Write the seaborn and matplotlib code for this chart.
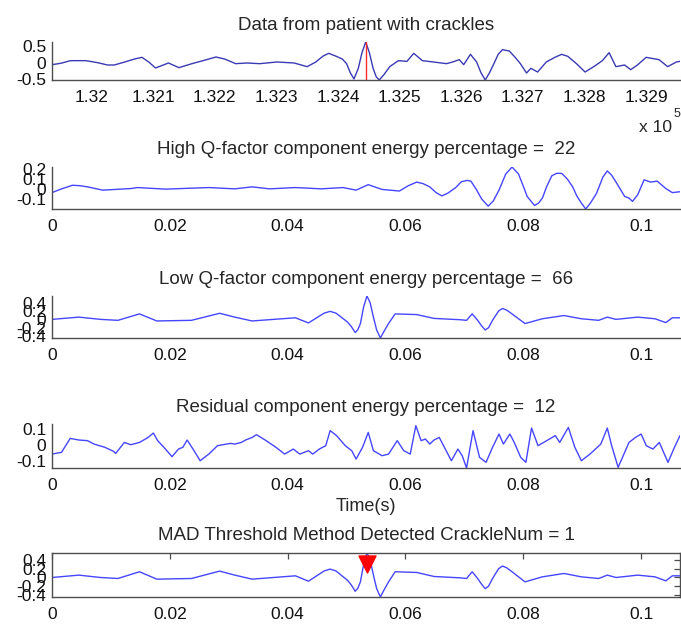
import matplotlib
matplotlib.use('Agg')
import matplotlib.pyplot as plt
import pandas as pd
import seaborn as sns

# raw recording around the crackle: sample index and amplitude
raw_idx = [131936, 131950, 131966, 131991, 132010, 132026, 132037, 132054, 132070, 132082,
           132093, 132104, 132125, 132142, 132163, 132181, 132202, 132216, 132234, 132252,
           132273, 132301, 132329, 132350, 132364, 132376, 132385, 132396, 132407, 132414,
           132420, 132426, 132433, 132439, 132445, 132451, 132457, 132462, 132467, 132475,
           132484, 132498, 132512, 132523, 132537, 132555, 132576, 132586, 132597, 132604,
           132615, 132625, 132632, 132639, 132646, 132653, 132660, 132667, 132678, 132688,
           132696, 132706, 132713, 132724, 132738, 132752, 132763, 132773, 132787, 132801,
           132815, 132829, 132840, 132851, 132865, 132875, 132886, 132900, 132921, 132935,
           132949, 132955]
raw_amp = [-0.06, -0.02, 0.06, 0.06, 0.0, -0.07, -0.07, 0.02, 0.11, 0.16,
           0.02, -0.16, -0.01, -0.15, -0.03, 0.06, 0.17, 0.11, -0.03, -0.01,
           -0.03, 0.02, -0.01, -0.12, 0.02, 0.20, 0.28, 0.20, 0.11, -0.03,
           -0.30, -0.49, -0.17, 0.30, 0.62, 0.30, -0.17, -0.42, -0.52, -0.35,
           -0.12, 0.06, 0.04, 0.28, 0.06, 0.02, -0.03, 0.02, 0.09, -0.06,
           0.25, 0.02, -0.30, -0.52, -0.30, -0.03, 0.25, 0.39, 0.35, 0.15,
           -0.03, -0.31, -0.17, -0.28, 0.02, 0.16, 0.25, 0.19, -0.03, -0.28,
           -0.12, 0.06, 0.30, -0.12, -0.07, -0.21, -0.07, 0.16, 0.09, -0.12,
           0.02, 0.04]
crackle_idx = 132445
raw_ticks = [132000, 132100, 132200, 132300, 132400, 132500, 132600, 132700, 132800, 132900]
raw_tick_labels = ['1.32', '1.321', '1.322', '1.323', '1.324', '1.325', '1.326', '1.327', '1.328', '1.329']

# high Q-factor component
hq_t = [0.0, 0.0015, 0.00346, 0.0047, 0.00603, 0.0086, 0.0134, 0.01449, 0.01926, 0.02662,
        0.03103, 0.03397, 0.03691, 0.04132, 0.04574, 0.04941, 0.05162, 0.05368, 0.05603, 0.05897,
        0.0605, 0.06191, 0.0630, 0.06412, 0.0652, 0.06618, 0.0672, 0.06853, 0.0695, 0.0705,
        0.0711, 0.0720, 0.07294, 0.07404, 0.0749, 0.07588, 0.0770, 0.07809, 0.07919, 0.0800,
        0.08066, 0.08191, 0.0826, 0.08324, 0.0840, 0.08485, 0.0857, 0.08654, 0.0875, 0.08838,
        0.0891, 0.08985, 0.09059, 0.0914, 0.09243, 0.0935, 0.09426, 0.0950, 0.09574, 0.09721,
        0.09794, 0.09853, 0.09941, 0.10051, 0.10162, 0.10272, 0.10419, 0.1053, 0.1066]
hq_v = [-0.035, 0.0, 0.039, 0.035, 0.023, -0.010, 0.006, 0.016, 0.0, 0.016,
        0.003, 0.023, 0.003, 0.016, 0.003, 0.016, -0.010, 0.045, -0.003, -0.019,
        0.035, 0.071, 0.055, 0.023, -0.035, -0.068, -0.040, 0.016, 0.075, 0.088,
        0.081, 0.0, -0.100, -0.171, -0.120, -0.010, 0.150, 0.223, 0.152, 0.030,
        -0.074, -0.165, -0.140, -0.090, 0.030, 0.135, 0.160, 0.158, 0.100, 0.023,
        -0.070, -0.139, -0.200, -0.140, -0.042, 0.120, 0.184, 0.140, 0.071, -0.074,
        -0.090, -0.123, -0.058, 0.094, 0.071, 0.081, 0.006, -0.035, -0.026]

# low Q-factor component
lq_t = [0.0, 0.00456, 0.00824, 0.01118, 0.01485, 0.01779, 0.02368, 0.02846, 0.03103, 0.03397,
        0.03838, 0.04132, 0.04353, 0.0462, 0.04721, 0.0482, 0.05015, 0.0508, 0.05147, 0.0519,
        0.05235, 0.0529, 0.05346, 0.0540, 0.05456, 0.0551, 0.05574, 0.0563, 0.05713, 0.05824,
        0.06191, 0.06485, 0.06926, 0.07037, 0.07132, 0.07221, 0.0729, 0.07353, 0.0741, 0.07478,
        0.0758, 0.07647, 0.0772, 0.07809, 0.08029, 0.08324, 0.08691, 0.08985, 0.09279, 0.09426,
        0.09574, 0.09941, 0.10235, 0.10419, 0.1053, 0.1066]
lq_v = [0.0, 0.054, 0.0, -0.023, 0.131, -0.038, -0.023, 0.146, 0.054, -0.038,
        0.008, 0.038, -0.085, 0.150, 0.192, 0.150, -0.062, -0.170, -0.315, -0.250,
        -0.100, 0.300, 0.560, 0.400, 0.054, -0.250, -0.446, -0.300, -0.100, 0.131,
        0.115, 0.023, -0.008, -0.023, 0.131, -0.015, -0.150, -0.254, -0.200, -0.023,
        0.200, 0.262, 0.220, 0.131, -0.100, 0.015, 0.092, 0.015, -0.023, 0.054,
        0.0, 0.054, 0.015, -0.077, 0.038, 0.038]

# residual component
res_t = [0.0, 0.00162, 0.00309, 0.00456, 0.00603, 0.00713, 0.00897, 0.01044, 0.01081, 0.01228,
         0.01338, 0.01485, 0.01632, 0.01721, 0.01794, 0.01926, 0.02037, 0.02147, 0.02221, 0.02294,
         0.02404, 0.02515, 0.02662, 0.02809, 0.03029, 0.03103, 0.03213, 0.03287, 0.03397, 0.03471,
         0.03618, 0.03801, 0.03949, 0.04096, 0.04206, 0.04353, 0.04426, 0.04537, 0.04647, 0.04721,
         0.04831, 0.04978, 0.05088, 0.05162, 0.05272, 0.05368, 0.05456, 0.05603, 0.05713, 0.0586,
         0.05971, 0.06081, 0.06176, 0.06265, 0.06338, 0.06412, 0.06485, 0.06574, 0.06632, 0.06779,
         0.0689, 0.06963, 0.07037, 0.07147, 0.07257, 0.07368, 0.07478, 0.07588, 0.07662, 0.07772,
         0.07846, 0.07956, 0.08044, 0.0814, 0.0825, 0.08397, 0.08544, 0.08618, 0.08765, 0.08875,
         0.08985, 0.09132, 0.09316, 0.09426, 0.095, 0.0961, 0.09684, 0.09794, 0.09904, 0.1,
         0.10088, 0.10199, 0.10309, 0.10456, 0.10566, 0.1066]
res_v = [-0.056, -0.045, 0.041, 0.031, 0.027, 0.006, -0.014, -0.039, -0.052, 0.016,
         0.002, 0.016, 0.047, 0.074, 0.027, -0.025, -0.072, -0.025, -0.014, 0.031,
         -0.031, -0.097, -0.056, -0.004, 0.010, 0.006, 0.016, 0.031, 0.047, 0.064,
         0.031, -0.014, -0.056, -0.025, -0.056, -0.035, -0.056, -0.025, -0.004, 0.089,
         0.058, -0.004, -0.035, -0.087, -0.014, 0.078, -0.035, -0.066, -0.056, 0.027,
         -0.035, -0.056, 0.120, 0.027, 0.037, 0.006, 0.031, 0.047, 0.006, -0.097,
         -0.025, -0.066, -0.142, 0.089, -0.076, -0.107, -0.014, 0.068, 0.006, 0.068,
         0.016, -0.076, -0.107, 0.105, -0.004, 0.027, 0.058, 0.016, 0.109, -0.014,
         -0.097, -0.056, 0.006, 0.105, -0.004, -0.138, -0.076, 0.016, 0.047, 0.068,
         -0.004, -0.025, 0.016, -0.107, -0.014, 0.058]

# detected crackle
det_t = [0.0535]
det_v = [0.30]

time_ticks = [0, 0.02, 0.04, 0.06, 0.08, 0.1]
time_tick_labels = ['0', '0.02', '0.04', '0.06', '0.08', '0.1']

titles = ['Data from patient with crackles',
          'High Q-factor component energy percentage =  22',
          'Low Q-factor component energy percentage =  66',
          'Residual component energy percentage =  12',
          'MAD Threshold Method Detected CrackleNum = 1']

sns.set_style('white')
plt.rcParams['font.family'] = ['Liberation Sans', 'DejaVu Sans']

W, H = 681, 626
fig = plt.figure(figsize=(W / 100, H / 100), dpi=100)

# axes boxes in pixels: (top, bottom)
boxes = [(42, 80), (167, 209), (296, 338), (424, 468), (553, 597)]
left_px, right_px = 52, 680
axes = []
for top, bot in boxes:
    ax = fig.add_axes([left_px / W, (H - bot) / H, (right_px - left_px) / W, (bot - top) / H])
    axes.append(ax)

blue_dark = '#3a3ab4'
blue = '#4646ff'
spine_col = '#4d4d4d'

raw_df = pd.DataFrame({'idx': raw_idx, 'amp': raw_amp})
hq_df = pd.DataFrame({'t': hq_t, 'v': hq_v})
lq_df = pd.DataFrame({'t': lq_t, 'v': lq_v})
res_df = pd.DataFrame({'t': res_t, 'v': res_v})

# panel 1: raw data
ax = axes[0]
sns.lineplot(data=raw_df, x='idx', y='amp', ax=ax, color=blue_dark, lw=1.0, estimator=None)
ax.axvline(crackle_idx, color='#ff2a2a', lw=1.0)
ax.set_xlim(min(raw_idx), max(raw_idx))
ax.set_ylim(min(raw_amp), max(raw_amp))
ax.set_xticks(raw_ticks)
ax.set_xticklabels(raw_tick_labels)
ax.set_yticks([-0.5, 0, 0.5])
ax.set_yticklabels(['-0.5', '0', '0.5'])
ax.text(0.988, -1.25, 'x 10', transform=ax.transAxes, ha='right', va='center', fontsize=12.5)
ax.text(0.990, -0.90, '5', transform=ax.transAxes, ha='left', va='center', fontsize=9)

# panels 2-5
sns.lineplot(data=hq_df, x='t', y='v', ax=axes[1], color=blue, lw=1.0, estimator=None)
axes[1].set_ylim(min(hq_v), max(hq_v))
axes[1].set_yticks([-0.1, 0, 0.1, 0.2])
axes[1].set_yticklabels(['-0.1', '0', '0.1', '0.2'])

for ax in (axes[2], axes[4]):
    sns.lineplot(data=lq_df, x='t', y='v', ax=ax, color=blue, lw=1.0, estimator=None)
    ax.set_ylim(min(lq_v), max(lq_v))
    ax.set_yticks([-0.4, -0.2, 0, 0.2, 0.4])
    ax.set_yticklabels(['-0.4', '-0.2', '0', '0.2', '0.4'])

sns.lineplot(data=res_df, x='t', y='v', ax=axes[3], color=blue, lw=1.0, estimator=None)
axes[3].set_ylim(min(res_v), 0.13)
axes[3].set_yticks([-0.1, 0, 0.1])
axes[3].set_yticklabels(['-0.1', '0', '0.1'])
axes[3].set_xlabel('Time(s)', fontsize=13, labelpad=4)

sns.scatterplot(x=det_t, y=det_v, ax=axes[4], marker='v', color='red', s=150,
                edgecolor='red', linewidth=1, zorder=5, clip_on=False)

for i, ax in enumerate(axes):
    if i > 0:
        ax.set_xlim(0, 0.1066)
        ax.set_xticks(time_ticks)
        ax.set_xticklabels(time_tick_labels)
    if i != 3:
        ax.set_xlabel('')
    ax.set_ylabel('')
    ax.set_title(titles[i], fontsize=13.5, pad=9)
    boxed = (i == 4)
    for side in ('top', 'right'):
        ax.spines[side].set_visible(boxed)
    for sp in ax.spines.values():
        sp.set_color(spine_col)
        sp.set_linewidth(1.0)
    ax.tick_params(axis='both', direction='in', length=4, width=0.9, color=spine_col,
                   labelsize=12.5, labelcolor='#111111', top=boxed, right=boxed)
    ax.tick_params(axis='x', pad=7)
    ax.tick_params(axis='y', pad=4)
    ax.grid(False)

fig.savefig('out.png', dpi=100)
